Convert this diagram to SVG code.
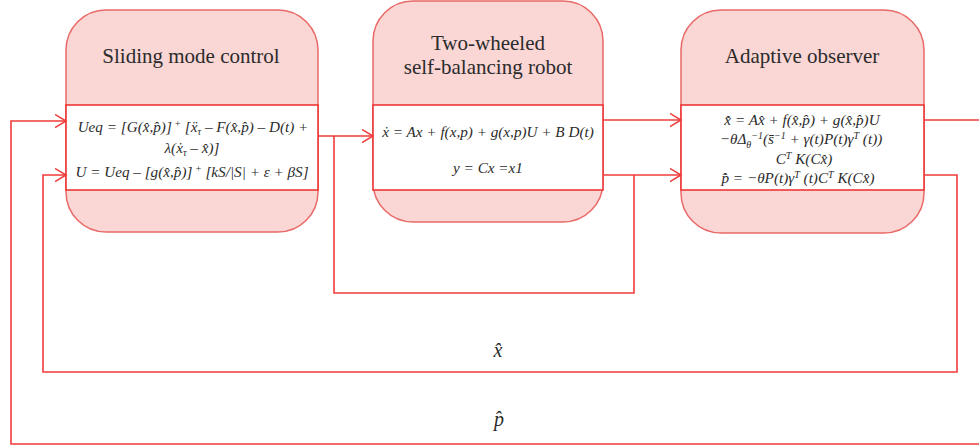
<svg xmlns="http://www.w3.org/2000/svg" width="979" height="447" viewBox="0 0 979 447">
  <style>
    .block { fill: #fad6d5; stroke: #e86a68; stroke-width: 1.5; }
    .panel { fill: #ffffff; stroke: #ee3636; stroke-width: 1.6; }
    .title { font-family: "Liberation Serif", "DejaVu Serif", serif; font-size: 21px; fill: #2b2b2b; text-anchor: middle; }
    .eq { font-family: "Liberation Serif", "DejaVu Serif", serif; font-style: italic; font-size: 15.2px; fill: #2b2b2b; text-anchor: middle; }
    .lbl { font-family: "Liberation Serif", "DejaVu Serif", serif; font-style: italic; font-size: 20px; fill: #2b2b2b; text-anchor: middle; }
    .wire { fill: none; stroke: #f03c3c; stroke-width: 1.6; }
    .up { font-size: 10px; }
  </style>
  <defs>
    <marker id="arrow" markerUnits="userSpaceOnUse" markerWidth="14" markerHeight="16" refX="11" refY="7" orient="auto">
      <path d="M0,0.5 L11,7 L0,13.5" fill="none" stroke="#f03c3c" stroke-width="1.5"/>
    </marker>
  </defs>

  <!-- Controller block -->
  <g id="sliding-mode-control">
    <rect class="block" x="66" y="10" width="252" height="222" rx="40" ry="40"/>
    <text class="title" x="191" y="63">Sliding mode control</text>
    <rect class="panel" x="66" y="105" width="252" height="85"/>
    <text class="eq" x="193" y="132">Ueq = [G(x̂,p̂)]<tspan class="up" dy="-5"> +</tspan><tspan dy="5"> [ẍ</tspan><tspan class="up" dy="3">τ</tspan><tspan dy="-3"> – F(x̂,p̂) – D(t) +</tspan></text>
    <text class="eq" x="192" y="153">λ(ẋ<tspan class="up" dy="3">τ</tspan><tspan dy="-3"> – x̂)]</tspan></text>
    <text class="eq" x="192" y="177">U = Ueq – [g(x̂,p̂)]<tspan class="up" dy="-5"> +</tspan><tspan dy="5"> [kS/|S| + ε + βS]</tspan></text>
  </g>

  <!-- Plant block -->
  <g id="two-wheeled-robot">
    <rect class="block" x="373" y="1" width="230" height="221" rx="40" ry="40"/>
    <text class="title" x="488" y="50">Two-wheeled</text>
    <text class="title" x="488" y="74">self-balancing robot</text>
    <rect class="panel" x="373" y="105" width="230" height="85"/>
    <text class="eq" x="488" y="137">ẋ = Ax + f(x,p) + g(x,p)U + B D(t)</text>
    <text class="eq" x="488" y="173">y = Cx =x1</text>
  </g>

  <!-- Observer block -->
  <g id="adaptive-observer">
    <rect class="block" x="681" y="10" width="243" height="223" rx="40" ry="40"/>
    <text class="title" x="802" y="63">Adaptive observer</text>
    <rect class="panel" x="681" y="105" width="243" height="85"/>
    <text class="eq" x="802" y="125">x̂̇ = Ax̂ + f(x̂,p̂) + g(x̂,p̂)U</text>
    <text class="eq" x="801" y="144">−θΔ<tspan class="up" dy="4">θ</tspan><tspan class="up" dy="-9">−1</tspan><tspan dy="5">(s̄</tspan><tspan class="up" dy="-5">−1</tspan><tspan dy="5"> + γ(t)P(t)γ</tspan><tspan class="up" dy="-5">T</tspan><tspan dy="5"> (t))</tspan></text>
    <text class="eq" x="804" y="164">C<tspan class="up" dy="-5">T</tspan><tspan dy="5"> K(Cx̂)</tspan></text>
    <text class="eq" x="798" y="183">p̂̇ = −θP(t)γ<tspan class="up" dy="-5">T</tspan><tspan dy="5"> (t)C</tspan><tspan class="up" dy="-5">T</tspan><tspan dy="5"> K(Cx̂)</tspan></text>
  </g>

  <!-- Signal paths -->
  <g id="connectors">
    <!-- control input to the robot -->
    <path class="wire" d="M318,136 L373,136" marker-end="url(#arrow)"/>
    <path class="wire" d="M334,136 L334,293 L634,293 L634,175"/>
    <!-- robot outputs to the observer -->
    <path class="wire" d="M603,120 L681,120" marker-end="url(#arrow)"/>
    <path class="wire" d="M603,175 L681,175" marker-end="url(#arrow)"/>
    <!-- observer outputs -->
    <path class="wire" d="M924,120 L979,120"/>
    <path class="wire" d="M924,175 L957,175 L957,372 L43,372 L43,175 L66,175" marker-end="url(#arrow)"/>
    <path class="wire" d="M979,444 L11,444 L11,121 L66,121" marker-end="url(#arrow)"/>
    <text class="lbl" x="498" y="357">x̂</text>
    <text class="lbl" x="499" y="426">p̂</text>
  </g>
</svg>
